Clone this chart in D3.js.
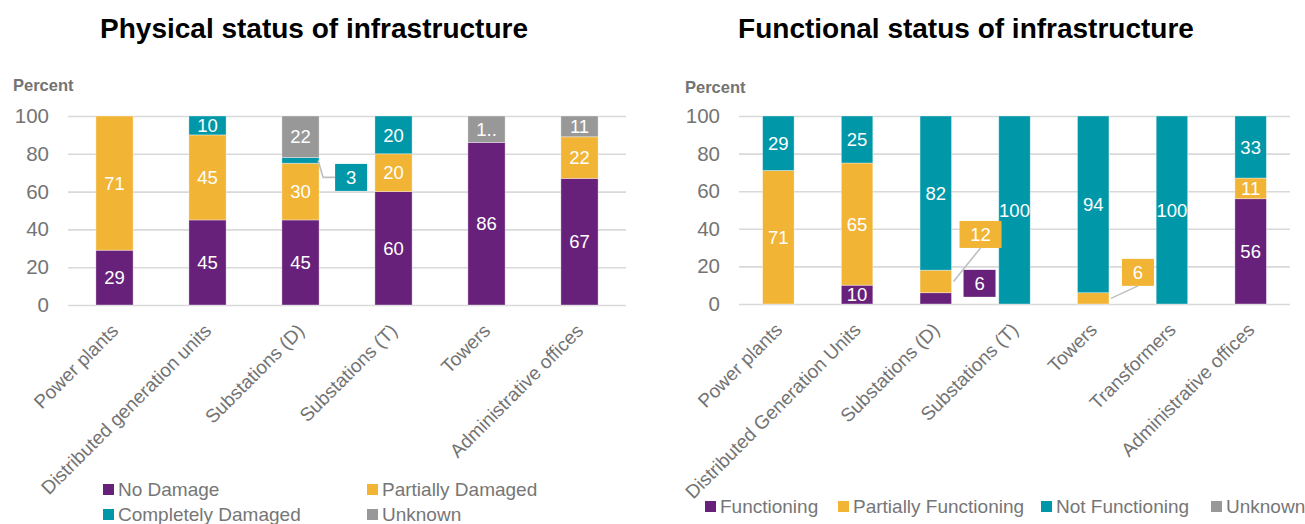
<!DOCTYPE html>
<html>
<head>
<meta charset="utf-8">
<script src="https://cdn.jsdelivr.net/npm/d3@7"></script>
<style>
  html, body { margin: 0; padding: 0; background: #fff; }
  svg { display: block; font-family: "Liberation Sans", Arial, sans-serif; }
</style>
</head>
<body>
<svg id="chart" width="1305" height="524"></svg>
<script>
// ---------- DATA ----------
const physCategories = ["Power plants", "Distributed generation units", "Substations (D)", "Substations (T)", "Towers", "Administrative offices"];
const physSeries = ["No Damage", "Partially Damaged", "Completely Damaged", "Unknown"];
const physNoDamage        = [29, 45, 45, 60, 86, 67];
const physPartialDamage   = [71, 45, 30, 20, 0, 22];
const physCompleteDamage  = [0, 10, 3, 20, 0, 0];
const physUnknown         = [0, 0, 22, 0, 14, 11];

const funcCategories = ["Power plants", "Distributed Generation Units", "Substations (D)", "Substations (T)", "Towers", "Transformers", "Administrative offices"];
const funcSeries = ["Functioning", "Partially Functioning", "Not Functioning", "Unknown"];
const funcFunctioning     = [0, 10, 6, 0, 0, 0, 56];
const funcPartial         = [71, 65, 12, 0, 6, 0, 11];
const funcNot             = [29, 25, 82, 100, 94, 100, 33];
const funcUnknown         = [0, 0, 0, 0, 0, 0, 0];

const yTicks = [0, 20, 40, 60, 80, 100];

// labels shown as callouts beside the bar (category|series)
const physCallouts = { "Substations (D)|Completely Damaged": { dx: 16, dy: 17, leader: "elbow" } };
const funcCallouts = {
  "Substations (D)|Partially Functioning": { dx: 8, dy: -47, leader: "line" },
  "Substations (D)|Functioning": { dx: 12, dy: -15, leader: "none" },
  "Towers|Partially Functioning": { dx: 13, dy: -26, leader: "line" }
};
const physLabelText = { "Towers|Unknown": "1.." };

const colors = ["#68217A", "#F1B434", "#0098A8", "#989898"];

const svg = d3.select("#chart");
const FONT = '"Liberation Sans", Arial, sans-serif';

function drawChart(cfg) {
  const g = svg.append("g");
  const keys = cfg.series;
  const rows = cfg.categories.map((c, i) => {
    const o = { cat: c };
    keys.forEach((k, j) => o[k] = cfg.values[j][i]);
    return o;
  });
  const stack = d3.stack().keys(keys)(rows);

  const x = d3.scaleBand().domain(cfg.categories).range(cfg.xRange).paddingInner(0.6).paddingOuter(0.3);
  const y = d3.scaleLinear().domain([0, 100]).range(cfg.yRange);
  const color = d3.scaleOrdinal().domain(keys).range(colors);

  // title
  g.append("text").attr("x", cfg.titleX).attr("y", 38)
    .attr("text-anchor", "middle").attr("font-size", 28).attr("font-weight", "bold")
    .attr("fill", "#000").text(cfg.title);

  // "Percent"
  g.append("text").attr("x", cfg.percentX).attr("y", cfg.percentY)
    .attr("font-size", 16.5).attr("font-weight", "bold").attr("fill", "#737373").text("Percent");

  // gridlines + y axis
  const yAxis = d3.axisLeft(y).tickValues(yTicks).tickSize(-(cfg.xRange[1] - cfg.xRange[0])).tickPadding(19);
  const ya = g.append("g").attr("transform", `translate(${cfg.xRange[0]},0)`).call(yAxis);
  ya.select(".domain").remove();
  ya.selectAll(".tick line").attr("stroke", "#d9d9d9").attr("stroke-width", 1.6);
  ya.selectAll(".tick text").attr("font-size", 20.5).attr("fill", "#747474").attr("font-family", FONT);

  // bars
  const layer = g.append("g").selectAll("g").data(stack).join("g").attr("fill", d => color(d.key));
  layer.selectAll("rect").data(d => d.map(v => Object.assign(v, { key: d.key })))
    .join("rect")
    .filter(d => d[1] - d[0] > 0)
    .attr("x", d => x(d.data.cat))
    .attr("width", x.bandwidth())
    .attr("y", d => y(d[1]))
    .attr("height", d => y(d[0]) - y(d[1]))
    .attr("stroke", "#ffffff").attr("stroke-opacity", 0.45).attr("stroke-width", 0.8);

  // labels
  const labels = g.append("g");
  stack.forEach(s => {
    s.forEach(d => {
      const v = d[1] - d[0];
      if (v <= 0) return;
      const id = d.data.cat + "|" + s.key;
      const cx = x(d.data.cat) + x.bandwidth() / 2;
      const cy = (y(d[0]) + y(d[1])) / 2;
      const co = cfg.callouts[id];
      const txt = (cfg.labelText && cfg.labelText[id]) || String(v);
      if (co) {
        const w = txt.length * 10 + 22, h = 27;
        const right = x(d.data.cat) + x.bandwidth();
        const bx = right + co.dx;
        const by = cy + co.dy - h / 2;
        if (co.leader === "elbow") {
          labels.append("path")
            .attr("d", `M${right - 1},${cy} L${right + 4},${cy + co.dy} L${bx},${cy + co.dy}`)
            .attr("fill", "none").attr("stroke", "#bfbfbf").attr("stroke-width", 1.6);
        } else if (co.leader === "line") {
          labels.append("path")
            .attr("d", `M${right + 2},${cy} L${bx + w / 2},${by + h}`)
            .attr("fill", "none").attr("stroke", "#bfbfbf").attr("stroke-width", 1.6);
        }
        labels.append("rect").attr("x", bx).attr("y", by).attr("width", w).attr("height", h)
          .attr("fill", color(s.key));
        labels.append("text").attr("x", bx + w / 2).attr("y", by + h / 2).attr("dy", "0.36em")
          .attr("text-anchor", "middle").attr("font-size", 18.5).attr("fill", "#fff").text(txt);
      } else {
        labels.append("text").attr("x", cx).attr("y", cy).attr("dy", "0.36em")
          .attr("text-anchor", "middle").attr("font-size", 18.5).attr("fill", "#fff").text(txt);
      }
    });
  });

  // category labels
  const y0 = y(0);
  g.append("g").selectAll("text").data(cfg.categories).join("text")
    .attr("transform", d => `translate(${x(d) + x.bandwidth() / 2 + 5},${y0 + 27}) rotate(-45)`)
    .attr("text-anchor", "end").attr("font-size", 19).attr("fill", "#737373").text(d => d);

  // legend
  const lg = g.append("g");
  cfg.legend.forEach((it, i) => {
    lg.append("rect").attr("x", it.x).attr("y", it.y - 12).attr("width", 11).attr("height", 11)
      .attr("fill", colors[i]);
    lg.append("text").attr("x", it.x + 15).attr("y", it.y).attr("font-size", 19)
      .attr("fill", "#767676").text(keys[i]);
  });
}

drawChart({
  title: "Physical status of infrastructure", titleX: 314,
  percentX: 13, percentY: 91,
  categories: physCategories, series: physSeries,
  values: [physNoDamage, physPartialDamage, physCompleteDamage, physUnknown],
  xRange: [68, 626], yRange: [305, 116],
  callouts: physCallouts, labelText: physLabelText,
  legend: [{ x: 103, y: 496 }, { x: 367, y: 496 }, { x: 103, y: 521 }, { x: 367, y: 521 }]
});

drawChart({
  title: "Functional status of infrastructure", titleX: 966,
  percentX: 685, percentY: 93,
  categories: funcCategories, series: funcSeries,
  values: [funcFunctioning, funcPartial, funcNot, funcUnknown],
  xRange: [739, 1290], yRange: [304, 116],
  callouts: funcCallouts, labelText: {},
  legend: [{ x: 705, y: 513 }, { x: 838, y: 513 }, { x: 1041, y: 513 }, { x: 1211, y: 513 }]
});
</script>
</body>
</html>
